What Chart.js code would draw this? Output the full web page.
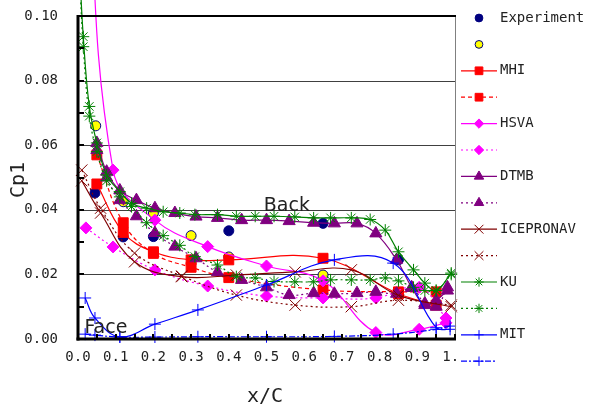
<!DOCTYPE html>
<html>
<head>
<meta charset="utf-8">
<script src="https://cdn.jsdelivr.net/npm/chart.js@4"></script>
<style>
  body { margin: 0; background: #fff; }
  canvas { display: block; }
</style>
</head>
<body>
<canvas id="grafico" width="595" height="410"></canvas>
<script>
const $ = id => document.getElementById(id);

// eixos
const xTicks = ["0.0", "0.1", "0.2", "0.3", "0.4", "0.5", "0.6", "0.7", "0.8", "0.9", "1.0"];
const yTicks = ["0.00", "0.02", "0.04", "0.06", "0.08", "0.10"];

// experimento
const expX = [0.045, 0.12, 0.2, 0.4, 0.65, 0.85];
const expY = [0.0452, 0.0316, 0.0317, 0.0335, 0.0358, 0.0245];
const exp2X = [0.047, 0.12, 0.2, 0.3, 0.4, 0.65];
const exp2Y = [0.066, 0.0425, 0.039, 0.032, 0.0254, 0.0198];

// MHI
const mhiX = [0.05, 0.12, 0.2, 0.3, 0.4, 0.65, 0.85, 0.95];
const mhiBack = [0.048, 0.033, 0.027, 0.0245, 0.0245, 0.025, 0.014, 0.0105];
const mhiFace = [0.057, 0.036, 0.0265, 0.0222, 0.019, 0.0152, 0.0146, 0.0146];

// HSVA
const hsvaX = [0.021, 0.093, 0.204, 0.344, 0.5, 0.65, 0.79, 0.905, 0.976];
const hsvaBack = [0.16, 0.0523, 0.0368, 0.0286, 0.0226, 0.018, 0.002, 0.003, 0.005];
const hsvaFace = [0.0344, 0.0285, 0.0214, 0.0164, 0.0133, 0.0127, 0.0127, 0.016, 0.0065];

// DTMB
const dtmbX = [0.05, 0.076, 0.111, 0.155, 0.204, 0.257, 0.313, 0.37, 0.434, 0.5,
    0.56, 0.625, 0.68, 0.74, 0.79, 0.845, 0.885, 0.92, 0.95, 0.98];
const dtmbBack = [0.0607, 0.0518, 0.046, 0.043, 0.0405, 0.039, 0.0379, 0.0375, 0.0368, 0.0368,
    0.0365, 0.036, 0.0358, 0.0358, 0.0327, 0.0245, 0.016, 0.0105, 0.012, 0.015];
const dtmbFace = [0.0585, 0.050, 0.043, 0.038, 0.0328, 0.0286, 0.025, 0.0207, 0.0183, 0.016,
    0.0136, 0.0142, 0.014, 0.0142, 0.0146, 0.014, 0.0158, 0.011, 0.010, 0.016];

// ICEPRONAV
const iceX = [0.01, 0.06, 0.15, 0.275, 0.42, 0.576, 0.725, 0.85, 0.99];
const iceBack = [0.049, 0.039, 0.0239, 0.0193, 0.0198, 0.0208, 0.0214, 0.0135, 0.010];
const iceFace = [0.0523, 0.0405, 0.0266, 0.0195, 0.0136, 0.0105, 0.010, 0.012, 0.0105];

// KU
const kuX = [0.004, 0.014, 0.03, 0.05, 0.076, 0.111, 0.142, 0.182, 0.226, 0.27,
    0.31, 0.37, 0.42, 0.47, 0.52, 0.575, 0.625, 0.67, 0.725, 0.775,
    0.815, 0.85, 0.89, 0.92, 0.95, 0.99];
const kuBack = [0.115, 0.0936, 0.072, 0.0607, 0.0508, 0.0456, 0.042, 0.0405, 0.0394, 0.039,
    0.0385, 0.0385, 0.038, 0.038, 0.038, 0.0378, 0.0375, 0.0375, 0.0375, 0.037,
    0.0337, 0.027, 0.0214, 0.0173, 0.015, 0.0204];
const kuFace = [0.112, 0.0905, 0.069, 0.058, 0.049, 0.044, 0.041, 0.036, 0.032, 0.029,
    0.0255, 0.0229, 0.0193, 0.0189, 0.0178, 0.0177, 0.0177, 0.0183, 0.0183, 0.0183,
    0.0189, 0.018, 0.016, 0.015, 0.015, 0.020];

// MIT
const mitX = [0.019, 0.045, 0.111, 0.204, 0.318, 0.5, 0.68, 0.836, 0.95, 0.987];
const mitBack = [0.0127, 0.0065, 0.0007, 0.0046, 0.009, 0.0167, 0.0245, 0.0235, 0.0035, 0.003];
const mitFace = [0.0015, 0.0012, 0.0006, 0.0006, 0.0007, 0.0007, 0.0008, 0.0015, 0.003, 0.004];

const TRACO = [4, 3];
const PONTO = [2, 3];
const TRACO_PONTO = [6, 2, 2, 2];

const series = [
    { label: "Experiment", x: expX, y: expY, cor: "#000080", fundo: "#000080", ponto: "circle", r: 5 },
    { label: "", x: exp2X, y: exp2Y, cor: "#000080", fundo: "#ffff00", ponto: "circle", r: 5 },
    { label: "MHI", x: mhiX, y: mhiBack, cor: "#ff0000", ponto: "rect", r: 7, linha: [] },
    { label: "", x: mhiX, y: mhiFace, cor: "#ff0000", ponto: "rect", r: 7, linha: TRACO },
    { label: "HSVA", x: hsvaX, y: hsvaBack, cor: "#ff00ff", ponto: "rectRot", r: 6, linha: [] },
    { label: "", x: hsvaX, y: hsvaFace, cor: "#ff00ff", ponto: "rectRot", r: 6, linha: PONTO },
    { label: "DTMB", x: dtmbX, y: dtmbBack, cor: "#800080", ponto: "triangle", r: 7, linha: [] },
    { label: "", x: dtmbX, y: dtmbFace, cor: "#800080", ponto: "triangle", r: 7, linha: PONTO },
    { label: "ICEPRONAV", x: iceX, y: iceBack, cor: "#800000", ponto: "crossRot", r: 8, linha: [] },
    { label: "", x: iceX, y: iceFace, cor: "#800000", ponto: "crossRot", r: 8, linha: PONTO },
    { label: "KU", x: kuX, y: kuBack, cor: "#008000", ponto: "star", r: 6, linha: [] },
    { label: "", x: kuX, y: kuFace, cor: "#008000", ponto: "star", r: 6, linha: PONTO },
    { label: "MIT", x: mitX, y: mitBack, cor: "#0000ff", ponto: "cross", r: 6, linha: [] },
    { label: "", x: mitX, y: mitFace, cor: "#0000ff", ponto: "cross", r: 6, linha: TRACO_PONTO }
];

const datasets = series.map((s, i) => ({
    label: s.label,
    data: s.x.map((x, j) => ({ x, y: s.y[j] })),
    showLine: !!s.linha,
    borderColor: s.cor,
    borderWidth: 1.2,
    borderDash: s.linha || [],
    tension: 0.4,
    pointStyle: s.ponto,
    pointRadius: s.r,
    pointBackgroundColor: s.fundo || s.cor,
    pointBorderColor: s.cor,
    pointBorderWidth: 1,
    clip: { left: 4, top: 20, right: 4, bottom: 4 },
    order: -i
}));

// desenha um marcador no estilo dos pontos do Chart.js
function marcador(ctx, estilo, x, y, r, cor, fundo) {
    ctx.save();
    ctx.strokeStyle = cor;
    ctx.fillStyle = fundo || cor;
    ctx.lineWidth = 1;
    ctx.setLineDash([]);
    ctx.beginPath();
    const d = r * Math.SQRT1_2;
    if (estilo === "circle") {
        ctx.arc(x, y, r, 0, Math.PI * 2);
        ctx.fill(); ctx.stroke();
    } else if (estilo === "rect") {
        ctx.rect(x - d, y - d, 2 * d, 2 * d);
        ctx.fill(); ctx.stroke();
    } else if (estilo === "rectRot") {
        ctx.moveTo(x, y - r); ctx.lineTo(x + r, y); ctx.lineTo(x, y + r); ctx.lineTo(x - r, y);
        ctx.closePath(); ctx.fill(); ctx.stroke();
    } else if (estilo === "triangle") {
        ctx.moveTo(x, y - r);
        ctx.lineTo(x + r * 0.866, y + r / 2);
        ctx.lineTo(x - r * 0.866, y + r / 2);
        ctx.closePath(); ctx.fill(); ctx.stroke();
    } else {
        if (estilo === "cross" || estilo === "star") {
            ctx.moveTo(x - r, y); ctx.lineTo(x + r, y);
            ctx.moveTo(x, y - r); ctx.lineTo(x, y + r);
        }
        if (estilo === "crossRot" || estilo === "star") {
            ctx.moveTo(x - d, y - d); ctx.lineTo(x + d, y + d);
            ctx.moveTo(x + d, y - d); ctx.lineTo(x - d, y + d);
        }
        ctx.stroke();
    }
    ctx.restore();
}

function linha(ctx, x1, y1, x2, y2) {
    ctx.beginPath();
    ctx.moveTo(x1, y1);
    ctx.lineTo(x2, y2);
    ctx.stroke();
}

const eixos = {
    id: "eixos",
    beforeDatasetsDraw(chart) {
        const { ctx, chartArea: a, scales: { y } } = chart;
        ctx.save();
        ctx.strokeStyle = "#404040";
        ctx.lineWidth = 1;
        yTicks.map(parseFloat).filter(v => v > 0 && v < 0.1).forEach(v => {
            const py = Math.round(y.getPixelForValue(v)) + 0.5;
            linha(ctx, a.left, py, a.right, py);
        });
        ctx.restore();
    },
    afterDatasetsDraw(chart) {
        const { ctx, chartArea: a, scales: { x, y } } = chart;
        ctx.save();

        // moldura
        ctx.strokeStyle = "#808080";
        ctx.lineWidth = 1;
        linha(ctx, a.right + 0.5, a.top, a.right + 0.5, a.bottom);
        ctx.strokeStyle = "#000";
        ctx.lineWidth = 2;
        linha(ctx, a.left, a.top, a.right + 1, a.top);

        // marcas internas
        ctx.lineWidth = 2;
        for (let v = 0; v <= 0.1001; v += 0.01) {
            const py = Math.round(y.getPixelForValue(v));
            linha(ctx, a.left, py, a.left + 6, py);
        }
        for (let v = 0; v <= 1.0001; v += 0.05) {
            const px = Math.round(x.getPixelForValue(v));
            linha(ctx, px, a.bottom - 5, px, a.bottom);
        }

        ctx.lineWidth = 3;
        linha(ctx, a.left, a.top - 1, a.left, a.bottom + 1.5);
        linha(ctx, a.left - 1.5, a.bottom, a.right + 1, a.bottom);

        // rótulos dos eixos
        ctx.fillStyle = "#222";
        ctx.font = "14px 'DejaVu Sans Mono'";
        ctx.textAlign = "right";
        ctx.textBaseline = "middle";
        yTicks.forEach(t => ctx.fillText(t, 58, y.getPixelForValue(parseFloat(t))));

        ctx.save();
        ctx.beginPath();
        ctx.rect(0, a.bottom, a.right + 3, 60);
        ctx.clip();
        ctx.textAlign = "center";
        xTicks.forEach(t => ctx.fillText(t, x.getPixelForValue(parseFloat(t)), 357));
        ctx.restore();

        ctx.font = "20px 'DejaVu Sans Mono'";
        ctx.textAlign = "center";
        ctx.fillText("x/C", 265, 397);
        ctx.save();
        ctx.translate(19, 180);
        ctx.rotate(-Math.PI / 2);
        ctx.fillText("Cp1", 0, 0);
        ctx.restore();

        // anotações
        ctx.font = "19px 'DejaVu Sans'";
        ctx.fillText("Back", x.getPixelForValue(0.554), y.getPixelForValue(0.0412));
        ctx.fillText("Face", x.getPixelForValue(0.074), y.getPixelForValue(0.0034));

        // legenda
        ctx.font = "14px 'DejaVu Sans Mono'";
        ctx.textAlign = "left";
        series.forEach((s, i) => {
            const ly = 18 + i * 26.4;
            if (s.linha) {
                ctx.save();
                ctx.strokeStyle = s.cor;
                ctx.lineWidth = 1.2;
                ctx.setLineDash(s.linha);
                linha(ctx, 461, ly, 497, ly);
                ctx.restore();
            }
            marcador(ctx, s.ponto, 479, ly, s.r * 0.78, s.cor, s.fundo);
            if (s.label) ctx.fillText(s.label, 500, ly);
        });

        ctx.restore();
    }
};

new Chart($("grafico"), {
    type: "scatter",
    data: { datasets },
    options: {
        responsive: false,
        animation: false,
        layout: { padding: { left: 78, right: 140, top: 16, bottom: 71 } },
        plugins: {
            legend: { display: false },
            tooltip: { enabled: false }
        },
        scales: {
            x: { type: "linear", min: 0, max: 1, display: false },
            y: { type: "linear", min: 0, max: 0.1, display: false }
        }
    },
    plugins: [eixos]
});
</script>
</body>
</html>
